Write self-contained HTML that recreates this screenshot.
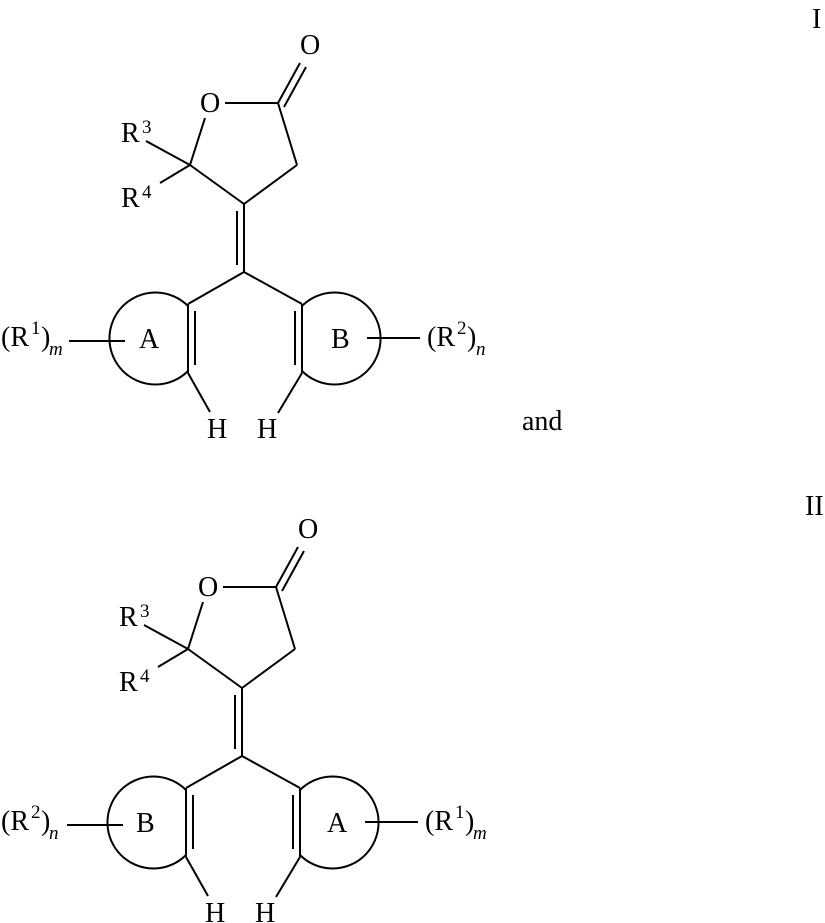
<!DOCTYPE html>
<html><head><meta charset="utf-8"><style>
html,body{margin:0;padding:0;background:#fff;}
svg{display:block;}
text{font-family:"Liberation Serif",serif;font-size:28px;fill:#000;}
.s{font-size:19px;}
</style></head><body>
<svg width="825" height="923" viewBox="0 0 825 923" xmlns="http://www.w3.org/2000/svg">
<defs>
<g id="core" stroke="#000" stroke-width="2" fill="none">
  <line x1="278" y1="103" x2="300" y2="63"/>
  <line x1="284" y1="107" x2="306" y2="67"/>
  <line x1="225" y1="103" x2="278" y2="103"/>
  <line x1="205" y1="118" x2="190" y2="165"/>
  <line x1="278" y1="103" x2="297" y2="165"/>
  <line x1="297" y1="165" x2="244" y2="204"/>
  <line x1="190" y1="165" x2="244" y2="204"/>
  <line x1="146" y1="141" x2="190" y2="165"/>
  <line x1="160" y1="183" x2="190" y2="165"/>
  <line x1="244" y1="204" x2="244" y2="272"/>
  <line x1="237" y1="211" x2="237" y2="265"/>
  <line x1="244" y1="272" x2="188" y2="304"/>
  <line x1="244" y1="272" x2="302" y2="304"/>
  <line x1="188" y1="304" x2="188" y2="373"/>
  <line x1="195" y1="311" x2="195" y2="365"/>
  <line x1="302" y1="304" x2="302" y2="373"/>
  <line x1="295" y1="311" x2="295" y2="365"/>
  <path d="M188,306 A46,46 0 1 0 188,371"/>
  <path d="M302,306 A46,46 0 1 1 302,371"/>
  <line x1="188" y1="373" x2="210" y2="412"/>
  <line x1="302" y1="373" x2="278" y2="413"/>
  <line x1="69" y1="341" x2="125" y2="341"/>
  <line x1="367" y1="338" x2="420" y2="338"/>
</g>
</defs>
<use href="#core"/>
<use href="#core" transform="translate(-2,484)"/>

<text x="300" y="54">O</text>
<text x="200" y="112">O</text>
<text x="121" y="142">R</text><text class="s" x="142" y="133">3</text>
<text x="121" y="207">R</text><text class="s" x="142" y="198">4</text>
<text x="207" y="438">H</text>
<text x="257" y="438">H</text>
<text x="139" y="348">A</text>
<text x="331" y="348">B</text>
<text x="1" y="346">(R</text><text class="s" x="31" y="334">1</text><text x="41" y="346">)</text><text class="s" x="49" y="355" font-style="italic">m</text>
<text x="427" y="346">(R</text><text class="s" x="457" y="334">2</text><text x="467" y="346">)</text><text class="s" x="476" y="355" font-style="italic">n</text>
<text x="812" y="28">I</text>
<text x="522" y="430">and</text>

<text x="298" y="538">O</text>
<text x="198" y="596">O</text>
<text x="119" y="626">R</text><text class="s" x="140" y="617">3</text>
<text x="119" y="691">R</text><text class="s" x="140" y="682">4</text>
<text x="205" y="922">H</text>
<text x="255" y="922">H</text>
<text x="136" y="832">B</text>
<text x="327" y="832">A</text>
<text x="1" y="830">(R</text><text class="s" x="31" y="818">2</text><text x="41" y="830">)</text><text class="s" x="49" y="839" font-style="italic">n</text>
<text x="425" y="830">(R</text><text class="s" x="455" y="818">1</text><text x="465" y="830">)</text><text class="s" x="473" y="839" font-style="italic">m</text>
<text x="805" y="515">II</text>
</svg>
</body></html>
